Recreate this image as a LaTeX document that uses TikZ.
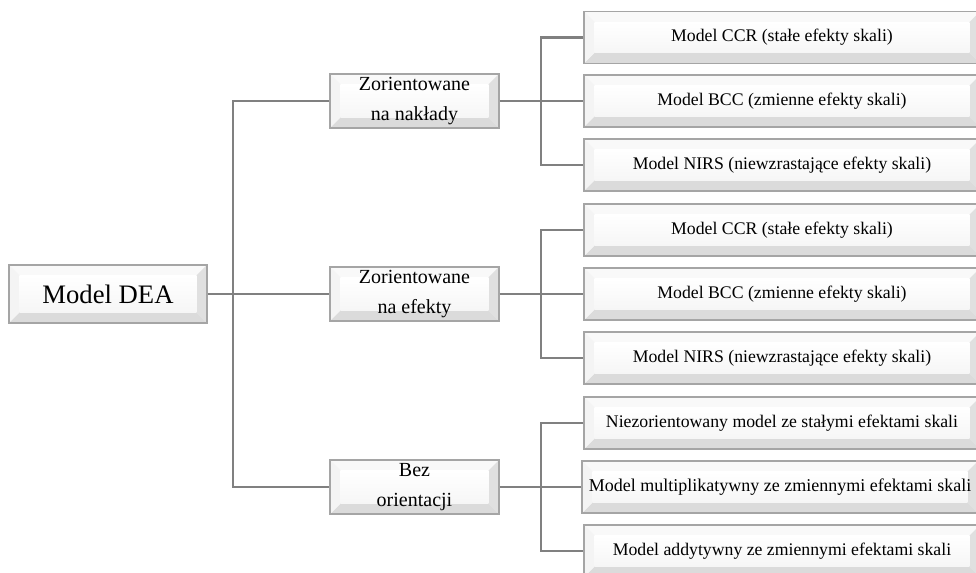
\documentclass[tikz,border=0pt]{standalone}
\usepackage{fontspec}
\setmainfont{Liberation Serif}
\usetikzlibrary{calc}
\newcommand\bevw{8pt}
\definecolor{connc}{RGB}{128,128,128}
\definecolor{edgec}{RGB}{165,165,165}
\tikzset{
  bevelbox/.style={draw=edgec, line width=1pt, inner sep=0pt, align=center,
    fill=white,
    path picture={
      \coordinate (@sw) at (path picture bounding box.south west);
      \coordinate (@ne) at (path picture bounding box.north east);
      \coordinate (@nw) at (path picture bounding box.north west);
      \coordinate (@se) at (path picture bounding box.south east);
      \shade[top color=white, bottom color=gray!10] (@sw) rectangle (@ne);
      \fill[gray!5] (@nw) -- (@ne) -- ([shift={(-\bevw,-\bevw)}]@ne) -- ([shift={(\bevw,-\bevw)}]@nw) -- cycle;
      \fill[gray!28] (@sw) -- (@se) -- ([shift={(-\bevw,\bevw)}]@se) -- ([shift={(\bevw,\bevw)}]@sw) -- cycle;
      \fill[gray!9] (@sw) -- (@nw) -- ([shift={(\bevw,-\bevw)}]@nw) -- ([shift={(\bevw,\bevw)}]@sw) -- cycle;
      \fill[gray!24] (@se) -- (@ne) -- ([shift={(-\bevw,-\bevw)}]@ne) -- ([shift={(-\bevw,\bevw)}]@se) -- cycle;
      \shade[top color=white, bottom color=gray!7] ([shift={(\bevw,\bevw)}]@sw) rectangle ([shift={(-\bevw,-\bevw)}]@ne);
    }},
  rootbox/.style={bevelbox, minimum width=148.5pt, minimum height=43.5pt, font=\fontsize{20}{24}\selectfont},
  midbox/.style={bevelbox, minimum width=126.75pt, minimum height=40.5pt, font=\fontsize{15}{23}\selectfont},
  leafbox/.style={bevelbox, minimum width=297pt, minimum height=39pt, font=\fontsize{13.3}{16}\selectfont},
  conn/.style={draw=connc, line width=1.6pt}
}
\begin{document}
\begin{tikzpicture}[x=0.75pt,y=-0.75pt]
\useasboundingbox (0,0) rectangle (976,573);
% root
\node[rootbox] (dea) at (108,294) {Model DEA};
% middle
\node[midbox] (m1) at (414.5,101) {Zorientowane\\na nakłady};
\node[midbox] (m2) at (414.5,294) {Zorientowane\\na efekty};
\node[midbox] (m3) at (414.5,487) {Bez\\orientacji};
% leaves
\node[leafbox] (r11) at (782,37.5) {Model CCR (stałe efekty skali)};
\node[leafbox] (r12) at (782,101) {Model BCC (zmienne efekty skali)};
\node[leafbox] (r13) at (782,165) {Model NIRS (niewzrastające efekty skali)};
\node[leafbox] (r21) at (782,230) {Model CCR (stałe efekty skali)};
\node[leafbox] (r22) at (782,294) {Model BCC (zmienne efekty skali)};
\node[leafbox] (r23) at (782,358) {Model NIRS (niewzrastające efekty skali)};
\node[leafbox] (r31) at (782,423) {Niezorientowany model ze stałymi efektami skali};
\node[leafbox, font=\fontsize{13.5}{16}\selectfont] (r32) at (780,487) {Model multiplikatywny ze zmiennymi efektami skali};
\node[leafbox] (r33) at (782,551) {Model addytywny ze zmiennymi efektami skali};
% buses
\coordinate (b0) at (233,0);
\coordinate (b1) at (541,0);
\draw[conn] (dea.east) -- (m2.west);
\draw[conn] (m1.west) -- (m1.west -| b0) -- (m3.west -| b0) -- (m3.west);
\foreach \g in {1,2,3}{
  \draw[conn] (m\g.east) -- (r\g2.west);
  \draw[conn] (r\g1.west) -- (r\g1.west -| b1) -- (r\g3.west -| b1) -- (r\g3.west);
}
\end{tikzpicture}
\end{document}
